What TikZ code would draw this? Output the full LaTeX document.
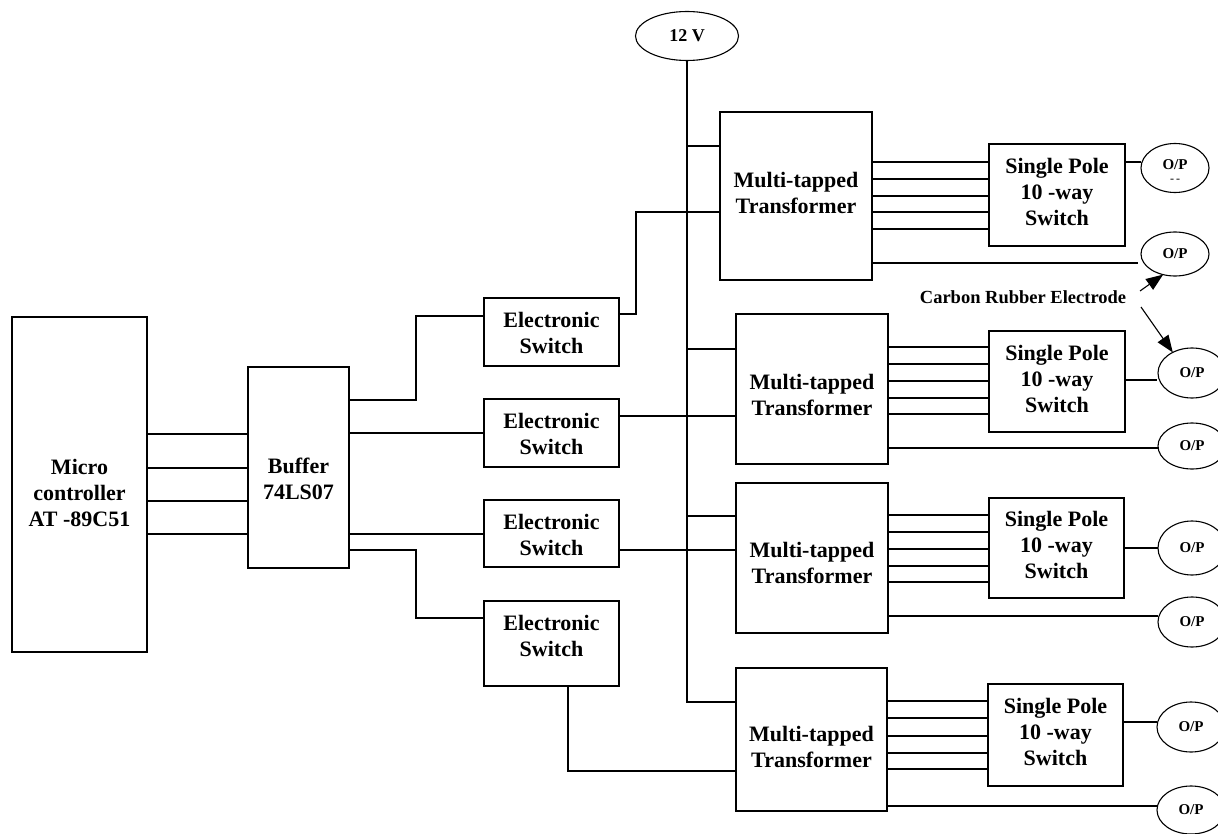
\documentclass[tikz,border=0pt]{standalone}
\usepackage{fontspec}
\setmainfont{Liberation Serif}
\usetikzlibrary{shapes.geometric,arrows.meta}
\begin{document}
\begin{tikzpicture}[x=1pt,y=-1pt,line width=1.1pt,
  blk/.style={draw,rectangle,inner sep=0pt,outer sep=0pt},
  lbl/.style={font=\fontsize{22}{26}\selectfont\bfseries,align=center,inner sep=0pt},
  opnode/.style={draw,ellipse,inner sep=0pt,outer sep=0pt,minimum width=68pt,font=\fontsize{15}{16}\selectfont\bfseries,align=center},
  tip/.style={-{Triangle[length=17pt,width=13pt]}}]
\useasboundingbox[fill=white] (0,0) rectangle (1218,834);

% blocks
\node[blk,minimum width=135pt,minimum height=335pt] (mc) at (79.5,484.5) {};
\node[lbl] (mct) at (79.5,493) {Micro\\controller\\AT -89C51};
\node[blk,minimum width=101pt,minimum height=201pt] (buf) at (298.5,467.5) {};
\node[lbl] (buft) at (298.5,479) {Buffer\\74LS07};

\node[blk,minimum width=135pt,minimum height=68pt] (es1) at (551.5,332) {};
\node[lbl] (es1t) at (551.5,332.5) {Electronic\\Switch};
\node[blk,minimum width=135pt,minimum height=68pt] (es2) at (551.5,433) {};
\node[lbl] (es2t) at (551.5,434) {Electronic\\Switch};
\node[blk,minimum width=135pt,minimum height=67pt] (es3) at (551.5,533.5) {};
\node[lbl] (es3t) at (551.5,534.5) {Electronic\\Switch};
\node[blk,minimum width=135pt,minimum height=85pt] (es4) at (551.5,643.5) {};
\node[lbl] (es4t) at (551.5,635.5) {Electronic\\Switch};

\node[draw,ellipse,inner sep=0pt,outer sep=0pt,minimum width=103pt,minimum height=49pt,font=\fontsize{18}{19}\selectfont\bfseries] (v12) at (687,36) {12 V};

\node[blk,minimum width=152pt,minimum height=168pt] (t1) at (796,196) {};
\node[lbl] (t1t) at (796,193) {Multi-tapped\\Transformer};
\node[blk,minimum width=152pt,minimum height=150pt] (t2) at (812,389) {};
\node[lbl] (t2t) at (812,395) {Multi-tapped\\Transformer};
\node[blk,minimum width=152pt,minimum height=150pt] (t3) at (812,558) {};
\node[lbl] (t3t) at (812,563) {Multi-tapped\\Transformer};
\node[blk,minimum width=151pt,minimum height=143pt] (t4) at (811.5,739.5) {};
\node[lbl] (t4t) at (811.5,747) {Multi-tapped\\Transformer};

\node[blk,minimum width=136pt,minimum height=102pt] (sw1) at (1057,195) {};
\node[lbl] (sw1t) at (1057,192) {Single Pole\\10 -way\\Switch};
\node[blk,minimum width=136pt,minimum height=101pt] (sw2) at (1057,381.5) {};
\node[lbl] (sw2t) at (1057,379) {Single Pole\\10 -way\\Switch};
\node[blk,minimum width=135pt,minimum height=100pt] (sw3) at (1056.5,548) {};
\node[lbl] (sw3t) at (1056.5,545) {Single Pole\\10 -way\\Switch};
\node[blk,minimum width=135pt,minimum height=102pt] (sw4) at (1055.5,735) {};
\node[lbl] (sw4t) at (1055.5,732) {Single Pole\\10 -way\\Switch};

% outputs
\node[opnode,minimum height=49pt] (op1) at (1175,168) {};
\node[font=\fontsize{15}{16}\selectfont\bfseries,inner sep=0pt] (op1t) at (1175,165) {O/P};
\node[font=\fontsize{12}{12}\selectfont,inner sep=0pt] (op1d) at (1175,181) {-\,-};
\node[opnode,minimum height=44pt] (op2) at (1175,254) {O/P};
\node[opnode,minimum height=50pt] (op3) at (1192,373) {O/P};
\node[opnode,minimum height=46pt] (op4) at (1192,446) {O/P};
\node[opnode,minimum height=54pt] (op5) at (1192,548) {O/P};
\node[opnode,minimum height=50pt] (op6) at (1192,622) {O/P};
\node[opnode,minimum height=50pt] (op7) at (1191,727) {O/P};
\node[opnode,minimum height=48pt] (op8) at (1191,810) {O/P};

\node[font=\fontsize{18.5}{20}\selectfont\bfseries,inner sep=0pt] (cre) at (1023,297) {Carbon Rubber Electrode};
\coordinate (a1) at (1140,291);
\coordinate (a2) at (1141,307);
\draw[tip] (a1) -- (op2.240);
\draw[tip] (a2) -- (op3.133);

% microcontroller to buffer
\foreach \yy in {434,468,501,534} \draw (mc.east |- 0,\yy) -- (buf.west |- 0,\yy);

% buffer to electronic switches
\draw (buf.east |- 0,400) -- (416,400) -- (416,316) -- (es1.west |- 0,316);
\draw (buf.east |- 0,433) -- (es2.west |- 0,433);
\draw (buf.east |- 0,534) -- (es3.west |- 0,534);
\draw (buf.east |- 0,550) -- (416,550) -- (416,618) -- (es4.west |- 0,618);

% electronic switches to transformers
\draw (es1.east |- 0,314) -- (636,314) -- (636,212) -- (t1.west |- 0,212);
\draw (es2.east |- 0,416) -- (t2.west |- 0,416);
\draw (es3.east |- 0,550) -- (t3.west |- 0,550);
\draw (es4.south -| 568,0) -- (568,771) -- (t4.west |- 0,771);

% 12 V supply
\draw (v12.south) -- (687,702) -- (t4.west |- 0,702);
\draw (687,146) -- (t1.west |- 0,146);
\draw (687,349) -- (t2.west |- 0,349);
\draw (687,516) -- (t3.west |- 0,516);

% transformer taps to switches
\foreach \yy in {162,179,196,212,229} \draw (t1.east |- 0,\yy) -- (sw1.west |- 0,\yy);
\foreach \yy in {347,364,381,398,414} \draw (t2.east |- 0,\yy) -- (sw2.west |- 0,\yy);
\foreach \yy in {515,532,549,566,582} \draw (t3.east |- 0,\yy) -- (sw3.west |- 0,\yy);
\foreach \yy in {701,718,736,753,769} \draw (t4.east |- 0,\yy) -- (sw4.west |- 0,\yy);

% transformer common lines to outputs
\draw[shorten >=3pt] (t1.east |- 0,263) -- (op2.west |- 0,263);
\draw (t2.east |- 0,448) -- (op4.west |- 0,448);
\draw (t3.east |- 0,616) -- (op6.west |- 0,616);
\draw (t4.east |- 0,806) -- (op8.west |- 0,806);

% switch outputs
\draw (sw1.east |- 0,162) -- (op1.west |- 0,162);
\draw[shorten >=1pt] (sw2.east |- 0,380) -- (op3.west |- 0,380);
\draw (sw3.east |- 0,548) -- (op5.west |- 0,548);
\draw (sw4.east |- 0,722) -- (op7.west |- 0,722);
\end{tikzpicture}
\end{document}
